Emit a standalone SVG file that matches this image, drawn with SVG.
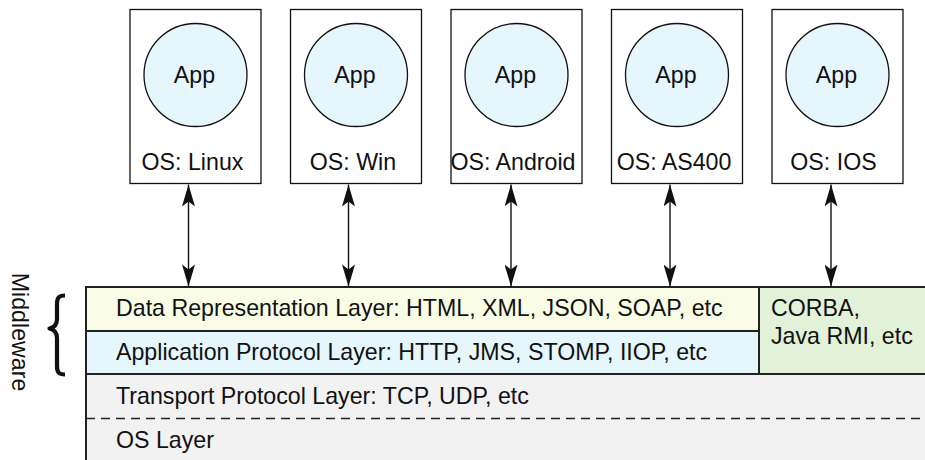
<svg xmlns="http://www.w3.org/2000/svg" width="925" height="460" viewBox="0 0 925 460">
  <style>
    text { font-family: "Liberation Sans", Arial, sans-serif; font-size: 23.2px; fill: #111; }
    .host { fill: #fff; stroke: #111; stroke-width: 1.3; }
    .app { fill: #e6f6fd; stroke: #111; stroke-width: 1.3; }
    .mid { text-anchor: middle; }
    .conn { stroke: #111; stroke-width: 1.4; fill: none; marker-start: url(#head); marker-end: url(#head); }
    .layer { stroke: #222; stroke-width: 2; }
  </style>
  <defs>
    <marker id="head" viewBox="0 0 22 13" refX="22" refY="6.5" markerWidth="22" markerHeight="13" markerUnits="userSpaceOnUse" orient="auto-start-reverse">
      <path d="M0,0 L22,6.5 L0,13 L5,6.5 Z" fill="#111"/>
    </marker>
  </defs>

  <!-- protocol stack -->
  <g id="stack">
    <rect id="layer-os" x="86" y="374" width="845" height="94" fill="#f2f2f2" class="layer"/>
    <line x1="86" y1="418.5" x2="925" y2="418.5" stroke="#222" stroke-width="1.3" stroke-dasharray="9 6"/>
    <rect id="layer-data" x="86" y="287" width="673" height="44" fill="#f9fde6" class="layer"/>
    <rect id="layer-app" x="86" y="331" width="673" height="43" fill="#e5f6fd" class="layer"/>
    <rect id="layer-corba" x="759" y="287" width="172" height="87" fill="#e2f2d9" class="layer"/>
    <text x="116" y="316">Data Representation Layer: HTML, XML, JSON, SOAP, etc</text>
    <text x="116" y="360">Application Protocol Layer: HTTP, JMS, STOMP, IIOP, etc</text>
    <text x="116" y="404">Transport Protocol Layer: TCP, UDP, etc</text>
    <text x="116" y="448">OS Layer</text>
    <text x="771" y="316">CORBA,</text>
    <text x="771" y="344">Java RMI, etc</text>
  </g>

  <!-- middleware label and brace -->
  <g id="middleware">
    <text class="mid" transform="translate(11.5,332) rotate(90)">Middleware</text>
    <path d="M65,295.5 C58.5,295.5 57,298 57,304 L57,319 C57,325 54,327.5 49.5,328.5 C54,329.5 57,332 57,338 L57,366 C57,372 58.5,374.5 65,374.5" fill="none" stroke="#111" stroke-width="4.2" stroke-linejoin="round"/>
  </g>

  <!-- hosts -->
  <g id="host-linux">
    <rect class="host" x="130" y="9.5" width="131" height="174"/>
    <circle class="app" cx="195.5" cy="75" r="51.5"/>
    <text class="mid" x="194.5" y="83">App</text>
    <text class="mid" x="192.5" y="170">OS: Linux</text>
  </g>
  <g id="host-win">
    <rect class="host" x="290.5" y="9.5" width="131" height="174"/>
    <circle class="app" cx="356" cy="75" r="51.5"/>
    <text class="mid" x="355" y="83">App</text>
    <text class="mid" x="353" y="170">OS: Win</text>
  </g>
  <g id="host-android">
    <rect class="host" x="451" y="9.5" width="131" height="174"/>
    <circle class="app" cx="516.5" cy="75" r="51.5"/>
    <text class="mid" x="515.5" y="83">App</text>
    <text class="mid" x="513" y="170">OS: Android</text>
  </g>
  <g id="host-as400">
    <rect class="host" x="611.5" y="9.5" width="131" height="174"/>
    <circle class="app" cx="677" cy="75" r="51.5"/>
    <text class="mid" x="676" y="83">App</text>
    <text class="mid" x="674" y="170">OS: AS400</text>
  </g>
  <g id="host-ios">
    <rect class="host" x="772" y="9.5" width="131" height="174"/>
    <circle class="app" cx="837.5" cy="75" r="51.5"/>
    <text class="mid" x="836.5" y="83">App</text>
    <text class="mid" x="833.5" y="170">OS: IOS</text>
  </g>

  <!-- connectors -->
  <g id="connectors">
    <line class="conn" x1="188.5" y1="184.5" x2="188.5" y2="286.5"/>
    <line class="conn" x1="348.5" y1="184.5" x2="348.5" y2="286.5"/>
    <line class="conn" x1="511" y1="184.5" x2="511" y2="286.5"/>
    <line class="conn" x1="670" y1="184.5" x2="670" y2="286.5"/>
    <line class="conn" x1="831" y1="184.5" x2="831" y2="286.5"/>
  </g>
</svg>
